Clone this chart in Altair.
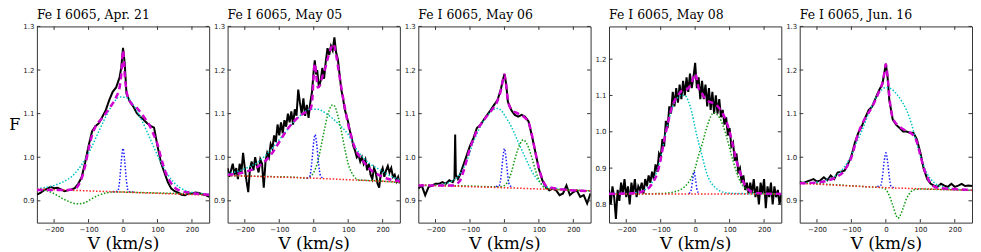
import altair as alt
import pandas as pd

TITLES = ["Fe I 6065, Apr. 21", "Fe I 6065, May 05", "Fe I 6065, May 06",
          "Fe I 6065, May 08", "Fe I 6065, Jun. 16"]
X_TICKS = [-200, -100, 0, 100, 200]
Y_TICKS_A = [0.9, 1.0, 1.1, 1.2, 1.3]
Y_TICKS_B = [0.8, 0.9, 1.0, 1.1, 1.2]
Y_DOMAIN_A = [0.85, 1.3]
Y_DOMAIN_B = [0.75, 1.29]

# ---------------- Panel 1 : Apr. 21 ----------------
P1_OBS_V = [-250,-240,-230,-220,-210,-200,-190,-180,-170,-160,-150,-140,-130,-120,-110,-100,-90,-80,-70,-60,-50,-40,-30,-20,-10,-5,0,5,10,20,30,40,50,60,70,80,90,100,110,120,130,140,150,160,170,180,190,200,210,220,230,240,250]
P1_OBS_F = [.914,.918,.924,.928,.932,.929,.930,.926,.922,.924,.926,.929,.939,.954,.988,1.026,1.059,1.071,1.078,1.093,1.108,1.131,1.150,1.160,1.183,1.206,1.251,1.214,1.146,1.127,1.116,1.101,1.093,1.086,1.078,1.072,1.068,1.026,.988,.965,.943,.928,.922,.919,.914,.913,.917,.917,.919,.918,.915,.913,.909]
P1_FIT_V = [-250,-200,-160,-140,-130,-120,-110,-100,-90,-80,-60,-40,-20,-10,-5,0,5,10,20,40,60,80,90,100,110,120,130,140,160,200,250]
P1_FIT_F = [.925,.925,.925,.927,.935,.952,.98,1.018,1.05,1.07,1.09,1.112,1.138,1.16,1.19,1.245,1.19,1.152,1.128,1.113,1.093,1.068,1.05,1.03,1.0,.973,.953,.94,.925,.918,.914]
P1_CYAN_V = [-250,-230,-210,-190,-170,-150,-130,-110,-90,-70,-50,-30,-10,10,30,50,70,90,110,130,150,170,190,210,230,250]
P1_CYAN_F = [.928,.930,.933,.938,.945,.955,.972,.995,1.025,1.06,1.093,1.122,1.138,1.137,1.12,1.092,1.058,1.022,.988,.96,.94,.928,.921,.918,.916,.915]
P1_GREEN_V = [-250,-230,-210,-190,-170,-150,-130,-110,-90,-70,-50,-30,0,50,100,150,200,250]
P1_GREEN_F = [.926,.925,.92,.912,.903,.896,.893,.896,.905,.913,.918,.920,.920,.919,.918,.917,.916,.914]
P1_BLUE_V = [-30,-15,-10,-5,0,5,10,15,30]
P1_BLUE_F = [.921,.922,.945,.99,1.02,.99,.945,.922,.920]
P1_RED_V = [-250, 0, 250]
P1_RED_F = [.927, .920, .913]

# ---------------- Panel 2 : May 05 ----------------
P2_OBS_V = [-250,-245,-240,-235,-230,-225,-220,-215,-210,-205,-200,-195,-190,-185,-180,-175,-170,-165,-160,-155,-150,-145,-140,-135,-130,-125,-120,-115,-110,-105,-100,-95,-90,-85,-80,-75,-70,-65,-60,-55,-50,-45,-40,-35,-30,-25,-20,-15,-10,-5,0,3,7,10,15,20,25,30,35,40,45,50,55,60,65,70,75,80,85,90,95,100,105,110,115,120,125,130,135,140,145,150,155,160,165,170,175,180,185,190,195,200,205,210,215,220,225,230,235,240,245,250]
P2_OBS_F = [.975,.955,.97,.985,.96,.975,.95,.985,.965,1.01,.975,.945,.92,.975,.99,.97,1.0,.98,.965,.995,.985,.93,.99,1.01,1.0,1.03,1.02,1.05,1.035,1.075,1.05,1.08,1.055,1.085,1.07,1.1,1.08,1.105,1.075,1.11,1.095,1.155,1.125,1.1,1.135,1.095,1.12,1.09,1.125,1.15,1.2,1.222,1.19,1.2,1.16,1.175,1.205,1.18,1.22,1.25,1.235,1.255,1.245,1.275,1.24,1.225,1.19,1.155,1.135,1.11,1.095,1.08,1.06,1.045,1.025,1.015,1.0,1.005,.99,1.0,.985,.995,.97,.985,.96,.95,.975,.965,.94,.93,.965,.975,.955,.97,.98,.965,.975,.955,.96,.945,.955,.94]
P2_FIT_V = [-250,-200,-150,-120,-100,-80,-60,-40,-20,-10,-5,0,3,7,12,18,25,32,40,50,57,65,72,80,90,100,110,120,140,160,200,250]
P2_FIT_F = [.96,.966,.985,1.01,1.035,1.06,1.08,1.095,1.105,1.11,1.125,1.19,1.215,1.19,1.16,1.165,1.185,1.2,1.225,1.25,1.26,1.235,1.2,1.16,1.115,1.075,1.045,1.02,.995,.975,.955,.945]
P2_CYAN_V = [-250,-220,-190,-160,-130,-100,-70,-40,-10,10,40,70,100,130,160,190,220,250]
P2_CYAN_F = [.962,.968,.977,.99,1.012,1.04,1.07,1.095,1.11,1.11,1.098,1.078,1.052,1.012,.987,.972,.958,.948]
P2_GREEN_V = [-250,-150,-50,-20,-10,0,10,20,30,40,50,55,60,70,80,90,100,110,120,130,180,250]
P2_GREEN_F = [.958,.956,.954,.952,.955,.965,.985,1.02,1.06,1.095,1.117,1.12,1.118,1.095,1.06,1.02,.985,.965,.953,.948,.946,.942]
P2_BLUE_V = [-20,-12,-6,0,4,8,14,20,28]
P2_BLUE_F = [.952,.955,.985,1.035,1.052,1.035,.985,.957,.952]
P2_RED_V = [-250, 0, 250]
P2_RED_F = [.958, .952, .943]

# ---------------- Panel 3 : May 06 ----------------
P3_OBS_V = [-250,-240,-230,-220,-210,-200,-190,-180,-170,-160,-150,-145,-143,-141,-135,-130,-120,-110,-100,-90,-80,-70,-60,-50,-40,-30,-20,-10,-5,0,5,10,20,30,40,50,60,70,80,90,100,110,120,130,140,150,160,170,180,190,200,210,220,230,240,250]
P3_OBS_F = [.928,.935,.913,.932,.935,.939,.939,.943,.939,.947,.943,.95,1.052,.96,.95,.958,.98,1.003,1.026,1.044,1.067,1.074,1.086,1.097,1.108,1.12,1.131,1.157,1.176,1.191,1.168,1.127,1.108,1.097,1.093,1.097,1.093,1.082,1.048,1.011,.973,.947,.932,.924,.928,.924,.913,.917,.935,.913,.92,.924,.909,.913,.894,.917]
P3_FIT_V = [-250,-150,-130,-120,-100,-80,-60,-40,-20,-10,-5,0,5,10,20,40,60,70,80,90,100,110,120,150,250]
P3_FIT_F = [.935,.935,.945,.965,1.02,1.06,1.085,1.105,1.13,1.155,1.175,1.19,1.165,1.13,1.11,1.1,1.09,1.08,1.05,1.01,.975,.95,.935,.928,.922]
P3_CYAN_V = [-250,-200,-170,-150,-130,-110,-90,-70,-50,-30,-20,-10,0,20,40,60,80,100,120,150,200,250]
P3_CYAN_F = [.935,.936,.94,.946,.96,.99,1.035,1.07,1.095,1.11,1.112,1.108,1.097,1.07,1.035,1.0,.967,.945,.933,.928,.925,.922]
P3_GREEN_V = [-250,-100,-20,0,10,20,30,40,50,55,60,70,80,90,100,110,120,250]
P3_GREEN_F = [.936,.934,.932,.935,.945,.965,.995,1.02,1.037,1.04,1.037,1.022,.998,.97,.948,.935,.928,.923]
P3_BLUE_V = [-25,-15,-10,-5,0,5,10,15,25]
P3_BLUE_F = [.933,.935,.955,.995,1.02,.995,.955,.935,.932]
P3_RED_V = [-250, 0, 250]
P3_RED_F = [.936, .930, .923]

# ---------------- Panel 4 : May 08 ----------------
P4_OBS_V = [-250,-245,-240,-235,-230,-225,-220,-215,-210,-205,-200,-195,-190,-185,-180,-175,-170,-165,-160,-155,-150,-145,-140,-135,-130,-125,-120,-115,-110,-105,-100,-95,-90,-85,-80,-75,-70,-65,-60,-55,-50,-45,-40,-35,-30,-25,-20,-15,-10,-5,0,5,10,15,20,25,30,35,40,45,50,55,60,65,70,75,80,85,90,95,100,105,110,115,120,125,130,135,140,145,150,155,160,165,170,175,180,185,190,195,200,205,210,215,220,225,230,235,240,245,250]
P4_OBS_F = [.84,.80,.85,.82,.76,.84,.81,.86,.83,.87,.82,.85,.80,.86,.83,.87,.82,.85,.84,.86,.83,.87,.85,.88,.86,.89,.87,.91,.89,.94,.93,.98,.96,1.03,1.01,1.07,1.05,1.11,1.07,1.12,1.08,1.13,1.09,1.14,1.10,1.15,1.11,1.16,1.12,1.15,1.19,1.12,1.15,1.09,1.14,1.09,1.13,1.07,1.12,1.06,1.11,1.05,1.10,1.05,1.09,1.04,1.06,1.02,1.04,.99,1.01,.96,.97,.92,.94,.89,.90,.86,.88,.84,.86,.83,.86,.83,.87,.82,.85,.80,.86,.83,.87,.79,.85,.82,.86,.80,.85,.82,.84,.80,.83]
P4_FIT_V = [-250,-200,-170,-150,-130,-120,-110,-100,-90,-80,-70,-60,-50,-40,-30,-20,-10,-5,0,5,10,20,30,40,50,60,70,80,90,100,110,120,130,140,150,170,200,250]
P4_FIT_F = [.829,.83,.832,.837,.85,.865,.885,.925,.975,1.02,1.06,1.085,1.1,1.112,1.115,1.12,1.135,1.15,1.16,1.145,1.12,1.105,1.09,1.083,1.08,1.075,1.065,1.05,1.03,1.0,.96,.92,.89,.862,.845,.833,.83,.829]
P4_CYAN_V = [-250,-200,-160,-140,-120,-110,-100,-90,-80,-70,-60,-50,-40,-30,-20,-10,0,10,20,30,40,50,60,70,80,100,130,250]
P4_CYAN_F = [.83,.83,.835,.845,.87,.895,.93,.975,1.02,1.055,1.08,1.095,1.10,1.10,1.085,1.055,1.01,.97,.935,.897,.87,.855,.845,.838,.834,.831,.83,.829]
P4_GREEN_V = [-250,-100,-60,-40,-20,-10,0,10,20,30,40,50,55,60,70,80,90,100,110,120,130,140,150,160,200,250]
P4_GREEN_F = [.829,.83,.835,.842,.86,.875,.9,.935,.965,1.0,1.03,1.05,1.053,1.05,1.04,1.02,.99,.955,.92,.89,.865,.85,.84,.834,.83,.829]
P4_BLUE_V = [-18,-12,-7,-3,1,6,12]
P4_BLUE_F = [.83,.838,.87,.89,.87,.838,.83]
P4_RED_V = [-250, 0, 250]
P4_RED_F = [.829, .829, .829]

# ---------------- Panel 5 : Jun. 16 ----------------
P5_OBS_V = [-250,-240,-230,-220,-210,-200,-190,-180,-170,-160,-150,-140,-130,-120,-110,-100,-90,-80,-70,-60,-50,-40,-30,-20,-10,-5,0,5,10,20,30,40,50,60,70,80,90,100,110,120,130,140,150,160,170,180,190,200,210,220,230,240,250]
P5_OBS_F = [.943,.941,.944,.947,.95,.944,.947,.954,.947,.958,.95,.965,.967,.969,.984,1.003,1.033,1.056,1.071,1.09,1.108,1.116,1.135,1.153,1.168,1.191,1.214,1.184,1.131,1.086,1.074,1.067,1.059,1.059,1.056,1.056,1.041,1.011,.973,.95,.939,.935,.932,.939,.935,.932,.939,.932,.935,.939,.934,.935,.934]
P5_FIT_V = [-250,-200,-150,-120,-100,-80,-60,-40,-20,-10,-5,0,5,10,20,40,60,80,90,100,110,120,130,150,200,250]
P5_FIT_F = [.94,.942,.952,.97,1.0,1.055,1.09,1.115,1.15,1.17,1.19,1.213,1.185,1.14,1.09,1.07,1.06,1.05,1.035,1.005,.975,.955,.94,.93,.927,.925]
P5_CYAN_V = [-250,-200,-170,-150,-130,-110,-100,-90,-70,-50,-30,-15,0,15,30,45,60,75,90,100,110,120,140,160,200,250]
P5_CYAN_F = [.94,.943,.948,.955,.968,.99,1.005,1.025,1.06,1.1,1.135,1.152,1.16,1.157,1.146,1.13,1.108,1.075,1.03,1.003,.98,.962,.942,.933,.927,.924]
P5_GREEN_V = [-250,-150,-50,-10,0,10,20,30,35,40,50,60,70,80,100,150,250]
P5_GREEN_F = [.942,.937,.932,.93,.926,.912,.89,.866,.86,.864,.883,.905,.918,.925,.927,.926,.924]
P5_BLUE_V = [-25,-15,-10,-5,0,5,10,15,25]
P5_BLUE_F = [.933,.935,.955,.99,1.01,.99,.955,.933,.93]
P5_RED_V = [-250, 0, 250]
P5_RED_F = [.94, .93, .924]

PANELS = [
    dict(obs=(P1_OBS_V, P1_OBS_F), fit=(P1_FIT_V, P1_FIT_F), cyan=(P1_CYAN_V, P1_CYAN_F),
         green=(P1_GREEN_V, P1_GREEN_F), blue=(P1_BLUE_V, P1_BLUE_F), red=(P1_RED_V, P1_RED_F)),
    dict(obs=(P2_OBS_V, P2_OBS_F), fit=(P2_FIT_V, P2_FIT_F), cyan=(P2_CYAN_V, P2_CYAN_F),
         green=(P2_GREEN_V, P2_GREEN_F), blue=(P2_BLUE_V, P2_BLUE_F), red=(P2_RED_V, P2_RED_F)),
    dict(obs=(P3_OBS_V, P3_OBS_F), fit=(P3_FIT_V, P3_FIT_F), cyan=(P3_CYAN_V, P3_CYAN_F),
         green=(P3_GREEN_V, P3_GREEN_F), blue=(P3_BLUE_V, P3_BLUE_F), red=(P3_RED_V, P3_RED_F)),
    dict(obs=(P4_OBS_V, P4_OBS_F), fit=(P4_FIT_V, P4_FIT_F), cyan=(P4_CYAN_V, P4_CYAN_F),
         green=(P4_GREEN_V, P4_GREEN_F), blue=(P4_BLUE_V, P4_BLUE_F), red=(P4_RED_V, P4_RED_F)),
    dict(obs=(P5_OBS_V, P5_OBS_F), fit=(P5_FIT_V, P5_FIT_F), cyan=(P5_CYAN_V, P5_CYAN_F),
         green=(P5_GREEN_V, P5_GREEN_F), blue=(P5_BLUE_V, P5_BLUE_F), red=(P5_RED_V, P5_RED_F)),
]
Y_DOMAINS = [Y_DOMAIN_A, Y_DOMAIN_A, Y_DOMAIN_A, Y_DOMAIN_B, Y_DOMAIN_A]
Y_TICKS = [Y_TICKS_A, Y_TICKS_A, Y_TICKS_A, Y_TICKS_B, Y_TICKS_A]
TITLE_OFFSETS = [1, 1, 1, 4.5, 1]

DOT = [1.5, 1.8]
STYLES = [
    ("obs", dict(color="#000000", strokeWidth=2.0), "linear"),
    ("cyan", dict(color="#00c4c4", strokeWidth=1.5, strokeDash=DOT), "monotone"),
    ("green", dict(color="#109a10", strokeWidth=1.5, strokeDash=DOT), "monotone"),
    ("blue", dict(color="#1a1aff", strokeWidth=1.5, strokeDash=DOT), "monotone"),
    ("red", dict(color="#ff2020", strokeWidth=1.5, strokeDash=DOT), "linear"),
    ("fit", dict(color="#d000d0", strokeWidth=2.5, strokeDash=[6, 4]), "monotone"),
]

SERIF = "DejaVu Serif"
W, H = 173, 197
TICK_LEN = 3.5
TICK_COLOR = "#333333"


def make_panel(i):
    data = PANELS[i]
    xs = alt.Scale(domain=[-250, 250], nice=False, zero=False)
    ys = alt.Scale(domain=Y_DOMAINS[i], nice=False, zero=False)
    xaxis = alt.Axis(values=X_TICKS, title="V (km/s)", titleFont=SERIF, titleFontSize=17,
                     titleFontWeight="normal", titlePadding=3, titleColor="#000")
    if i == 0:
        yaxis = alt.Axis(values=Y_TICKS[i], format=".1f", title="F", titleAngle=0,
                         titleFont=SERIF, titleFontSize=16, titleFontWeight="normal",
                         titleAlign="right", titleBaseline="middle", titlePadding=3,
                         titleColor="#000")
    else:
        yaxis = alt.Axis(values=Y_TICKS[i], format=".1f", title=None)
    X = alt.X("v:Q", scale=xs, axis=xaxis)
    Y = alt.Y("F:Q", scale=ys, axis=yaxis)
    layers = []
    for key, style, interp in STYLES:
        v, f = data[key]
        df = pd.DataFrame({"v": v, "F": f})
        layers.append(
            alt.Chart(df).mark_line(clip=True, interpolate=interp, **style).encode(x=X, y=Y)
        )
    # inward tick marks on all four sides, placed by the scales
    xt = pd.DataFrame({"v": X_TICKS})
    yt = pd.DataFrame({"F": Y_TICKS[i]})
    tick = dict(color=TICK_COLOR, strokeWidth=1)
    layers.append(alt.Chart(xt).mark_rule(**tick).encode(
        x=X, y=alt.value(H), y2=alt.value(H - TICK_LEN)))
    layers.append(alt.Chart(xt).mark_rule(**tick).encode(
        x=X, y=alt.value(0), y2=alt.value(TICK_LEN)))
    layers.append(alt.Chart(yt).mark_rule(**tick).encode(
        y=Y, x=alt.value(0), x2=alt.value(TICK_LEN)))
    layers.append(alt.Chart(yt).mark_rule(**tick).encode(
        y=Y, x=alt.value(W - TICK_LEN), x2=alt.value(W)))
    return alt.layer(*layers).properties(
        width=W, height=H,
        title=alt.TitleParams(TITLES[i], anchor="start", frame="group", font=SERIF,
                              fontSize=12.5, fontWeight="normal",
                              offset=TITLE_OFFSETS[i], color="#000"),
    )


chart = alt.hconcat(*[make_panel(i) for i in range(5)], spacing=18.5, bounds="flush").properties(
    padding=0
).configure_view(
    stroke="#333", strokeWidth=1
).configure_axis(
    domain=False, grid=False, ticks=False, labelFont="DejaVu Sans", labelFontSize=7,
    labelColor="#222", labelPadding=3
)

chart.save("out.html", embed_options={"renderer": "svg", "actions": False})
